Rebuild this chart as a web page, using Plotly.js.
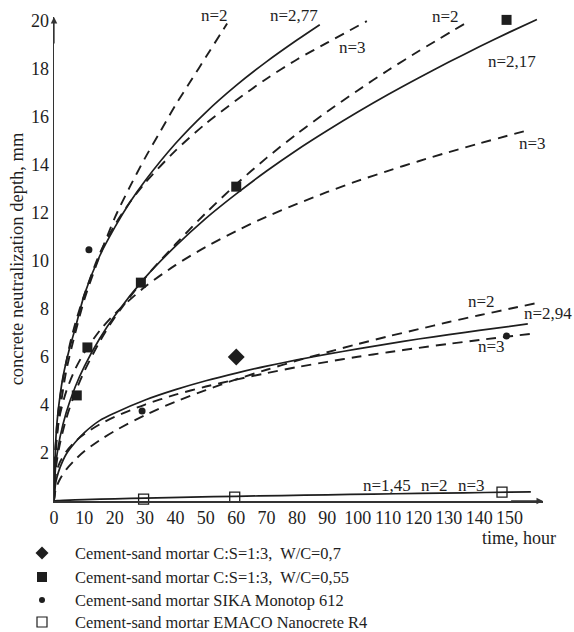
<!DOCTYPE html>
<html>
<head>
<meta charset="utf-8">
<script src="https://cdn.plot.ly/plotly-3.0.1.min.js"></script>
<style>html,body{margin:0;padding:0;background:#fff;}#chart{width:574px;height:632px;}</style>
</head>
<body>
<div id="chart"></div>
<script>
// ---- Tick labels ----
const xTicks = [0,10,20,30,40,50,60,70,80,90,100,110,120,130,140,150];
const yTicks = [2,4,6,8,10,12,14,16,18,20];

// ---- Curve values (time, hour -> depth, mm) ----
// Upper group
const tA_s = [0,0.5,1,2,3,5,7,10,15,20,25,30,40,50,60,70,80,87.5];
const hA_s = [0,2.3,3.3,4.4,5.2,6.3,7.2,8.6,10.2,11.4,12.45,13.35,14.9,16.2,17.32,18.31,19.21,19.85];
const tA_2 = [0,0.5,1,2,4,6,10,15,20,25,30,35,40,45,50,57];
const hA_2 = [0,1.9,2.7,3.8,5.4,6.5,8.4,10.2,11.8,13.1,14.3,15.4,16.5,17.5,18.5,19.9];
const tA_3 = [0,1,2,3,5,7,10,15,20,25,30,40,50,60,70,80,90,103];
const hA_3 = [0,3.2,4.3,5.1,6.4,7.4,8.6,10.3,11.5,12.45,13.26,14.6,15.73,16.7,17.6,18.4,19.1,20.0];
// Middle group
const tB_s = [0,0.5,1,2,4,7,10,15,20,30,40,50,60,70,80,90,100,110,120,130,140,150,159];
const hB_s = [0,1.41,1.94,2.67,3.68,4.76,5.61,6.76,7.72,9.31,10.62,11.78,12.8,13.75,14.63,15.44,16.21,16.94,17.63,18.29,18.93,19.54,20.07];
const tB_2 = [0,0.5,1,2,4,7,10,15,20,30,40,50,60,70,80,90,100,110,120,136];
const hB_2 = [0,1.21,1.71,2.42,3.42,4.53,5.41,6.63,7.65,9.3,10.7,12.0,13.2,14.3,15.3,16.23,17.11,17.95,18.74,19.95];
const tB_3 = [0,0.5,1,2,4,7,10,15,20,30,40,50,60,70,80,90,100,110,120,130,140,156.6];
const hB_3 = [0,2.28,2.875,3.62,4.56,5.5,6.19,7.09,7.8,8.93,9.83,10.59,11.25,11.85,12.38,12.88,13.34,13.76,14.16,14.54,14.9,15.47];
// Lower group
const tC_s = [0,0.5,1,2,4,7,10,15,20,30,40,50,60,70,80,90,100,110,120,130,140,156];
const hC_s = [0,0.7,1.0,1.4,1.95,2.45,2.85,3.35,3.67,4.21,4.64,5.01,5.33,5.62,5.88,6.12,6.34,6.55,6.75,6.93,7.11,7.38];
const tC_2 = [0,0.5,1,2,4,7,10,15,20,30,40,50,60,70,80,90,100,110,120,130,140,150,159];
const hC_2 = [0,0.46,0.65,0.92,1.31,1.73,2.07,2.53,2.92,3.58,4.14,4.62,5.07,5.47,5.85,6.2,6.54,6.86,7.16,7.46,7.74,8.01,8.25];
const tC_3 = [0,0.5,1,2,4,7,10,15,20,30,40,50,60,70,80,90,100,110,120,130,140,158];
const hC_3 = [0,1.03,1.29,1.63,2.05,2.48,2.79,3.19,3.51,4.02,4.43,4.77,5.06,5.33,5.58,5.8,6.01,6.2,6.38,6.55,6.71,6.98];
// Bottom (EMACO)
const tD_s = [0,1,3,10,20,30,45,60,75,90,105,120,135,150,157];
const hD_s = [0,0.012,0.025,0.057,0.092,0.121,0.16,0.196,0.228,0.259,0.288,0.315,0.342,0.368,0.38];

// ---- Measured points ----
const legendNames = [
  'Cement-sand mortar C:S=1:3,\u00a0 W/C=0,7',
  'Cement-sand mortar C:S=1:3,\u00a0 W/C=0,55',
  'Cement-sand mortar SIKA Monotop 612',
  'Cement-sand mortar EMACO Nanocrete R4'
];
const tDiamond = [60];
const hDiamond = [6.0];
const tSquare = [7.5, 11, 28.6, 60, 149];
const hSquare = [4.4, 6.4, 9.1, 13.1, 20.05];
const tDot = [11.5, 29, 149];
const hDot = [10.47, 3.75, 6.88];
const tOpen = [29.5, 59.5, 147.5];
const hOpen = [0.08, 0.16, 0.37];

// ---- Curve labels (in axis units) ----
const labelText = ['n=2','n=2,77','n=3','n=2','n=2,17','n=3','n=2','n=2,94','n=3','n=1,45','n=2','n=3'];
const labelT = [53, 79, 98.4, 129, 150.7, 157.5, 140.8, 162.5, 144, 109.5, 125.3, 137.5];
const labelH = [20.25, 20.25, 18.9, 20.2, 18.3, 14.9, 8.3, 7.83, 6.45, 0.63, 0.63, 0.63];

const FONT = '"Liberation Serif", "Times New Roman", serif';
const INK = '#1e1e1e';
const DASH = '10px,7px';
const X_MAX = 161, Y_MAX = 20.17;

// plot frame in pixels (for the hand-placed legend below the axes)
const PL = 54, PB = 501, PW = 489, PH = 484;
const px = v => (v - PL) / PW;
const py = v => (PB - v) / PH;
const legSymX = 42, legTextX = 73;
const legRowY = [553, 577, 600, 622];

function curve(t, h, dashed) {
  return {x: t, y: h, type: 'scatter', mode: 'lines', showlegend: false, hoverinfo: 'skip',
    line: {color: INK, width: dashed ? 1.9 : 1.7, dash: dashed ? DASH : 'solid', shape: 'spline', smoothing: 0.8}};
}

const traces = [
  curve(tA_s, hA_s, false), curve(tA_2, hA_2, true), curve(tA_3, hA_3, true),
  curve(tB_s, hB_s, false), curve(tB_2, hB_2, true), curve(tB_3, hB_3, true),
  curve(tC_s, hC_s, false), curve(tC_2, hC_2, true), curve(tC_3, hC_3, true),
  curve(tD_s, hD_s, false),
  {x: tDiamond, y: hDiamond, type: 'scatter', mode: 'markers', name: legendNames[0], cliponaxis: false,
   showlegend: false, marker: {symbol: 'diamond', size: 13, color: INK}},
  {x: tSquare, y: hSquare, type: 'scatter', mode: 'markers', name: legendNames[1], cliponaxis: false,
   showlegend: false, marker: {symbol: 'square', size: 10, color: INK}},
  {x: tDot, y: hDot, type: 'scatter', mode: 'markers', name: legendNames[2], cliponaxis: false,
   showlegend: false, marker: {symbol: 'circle', size: 7, color: INK}},
  {x: tOpen, y: hOpen, type: 'scatter', mode: 'markers', name: legendNames[3], cliponaxis: false,
   showlegend: false, marker: {symbol: 'square-open', size: 10, color: INK, line: {width: 1.3, color: INK}}}
];

// curve labels: given in axis units, placed through paper fractions so the ones just past the axis ends still show
const annotations = labelText.map((txt, i) => ({
  x: labelT[i] / X_MAX, y: labelH[i] / Y_MAX, xref: 'paper', yref: 'paper', text: txt, showarrow: false,
  font: {family: FONT, size: 17, color: INK}, xanchor: 'center', yanchor: 'middle'
}));
legendNames.forEach((nm, i) => annotations.push({
  x: px(legTextX), y: py(legRowY[i]), xref: 'paper', yref: 'paper', text: nm, showarrow: false,
  font: {family: FONT, size: 16.4, color: INK}, xanchor: 'left', yanchor: 'middle'
}));
annotations.push({x: px(519), y: py(538), xref: 'paper', yref: 'paper', text: 'time, hour', showarrow: false,
  font: {family: FONT, size: 18, color: INK}, xanchor: 'center', yanchor: 'middle'});
// axis arrowheads
annotations.push({x: X_MAX, y: 0, xref: 'x', yref: 'y', ax: 150, ay: 0, axref: 'x', ayref: 'y', text: '',
  showarrow: true, arrowhead: 2, arrowsize: 1, arrowwidth: 1.3, arrowcolor: '#333'});
annotations.push({x: 0, y: Y_MAX, xref: 'x', yref: 'y', ax: 0, ay: 19, axref: 'x', ayref: 'y', text: '',
  showarrow: true, arrowhead: 2, arrowsize: 1, arrowwidth: 1.3, arrowcolor: '#333'});

// legend keys
function key(i, extra) {
  return Object.assign({xref: 'paper', yref: 'paper', xsizemode: 'pixel', ysizemode: 'pixel',
    xanchor: px(legSymX), yanchor: py(legRowY[i]), fillcolor: INK, line: {color: INK, width: 0}}, extra);
}
const shapes = [
  key(0, {type: 'path', path: 'M0,6.5 L6.5,0 L0,-6.5 L-6.5,0 Z'}),
  key(1, {type: 'rect', x0: -5, x1: 5, y0: -5, y1: 5}),
  key(2, {type: 'circle', x0: -3, x1: 3, y0: -3, y1: 3}),
  key(3, {type: 'rect', x0: -5, x1: 5, y0: -5, y1: 5, fillcolor: 'rgba(0,0,0,0)', line: {color: INK, width: 1.2}})
];

const layout = {
  width: 574, height: 632,
  margin: {l: PL, r: 574 - PL - PW, t: PB - PH, b: 632 - PB},
  paper_bgcolor: '#fff', plot_bgcolor: '#fff',
  font: {family: FONT, size: 17, color: INK},
  showlegend: false,
  xaxis: {range: [0, X_MAX], showgrid: false, zeroline: false, showline: true, linecolor: '#333', linewidth: 1.5,
    automargin: false, ticks: '', tickmode: 'array', tickvals: xTicks, ticktext: xTicks.map(String),
    tickfont: {family: FONT, size: 18, color: INK}, fixedrange: true},
  yaxis: {range: [0, Y_MAX], showgrid: false, zeroline: false, showline: true, linecolor: '#333', linewidth: 1.5,
    automargin: false, ticks: '', tickmode: 'array', tickvals: yTicks, ticktext: yTicks.map(String),
    tickfont: {family: FONT, size: 18, color: INK}, fixedrange: true,
    title: {text: 'concrete neutralization depth, mm', font: {family: FONT, size: 18.5, color: INK}, standoff: 2}},
  annotations: annotations,
  shapes: shapes
};

Plotly.newPlot('chart', traces, layout, {displayModeBar: false, staticPlot: true});
</script>
</body>
</html>
